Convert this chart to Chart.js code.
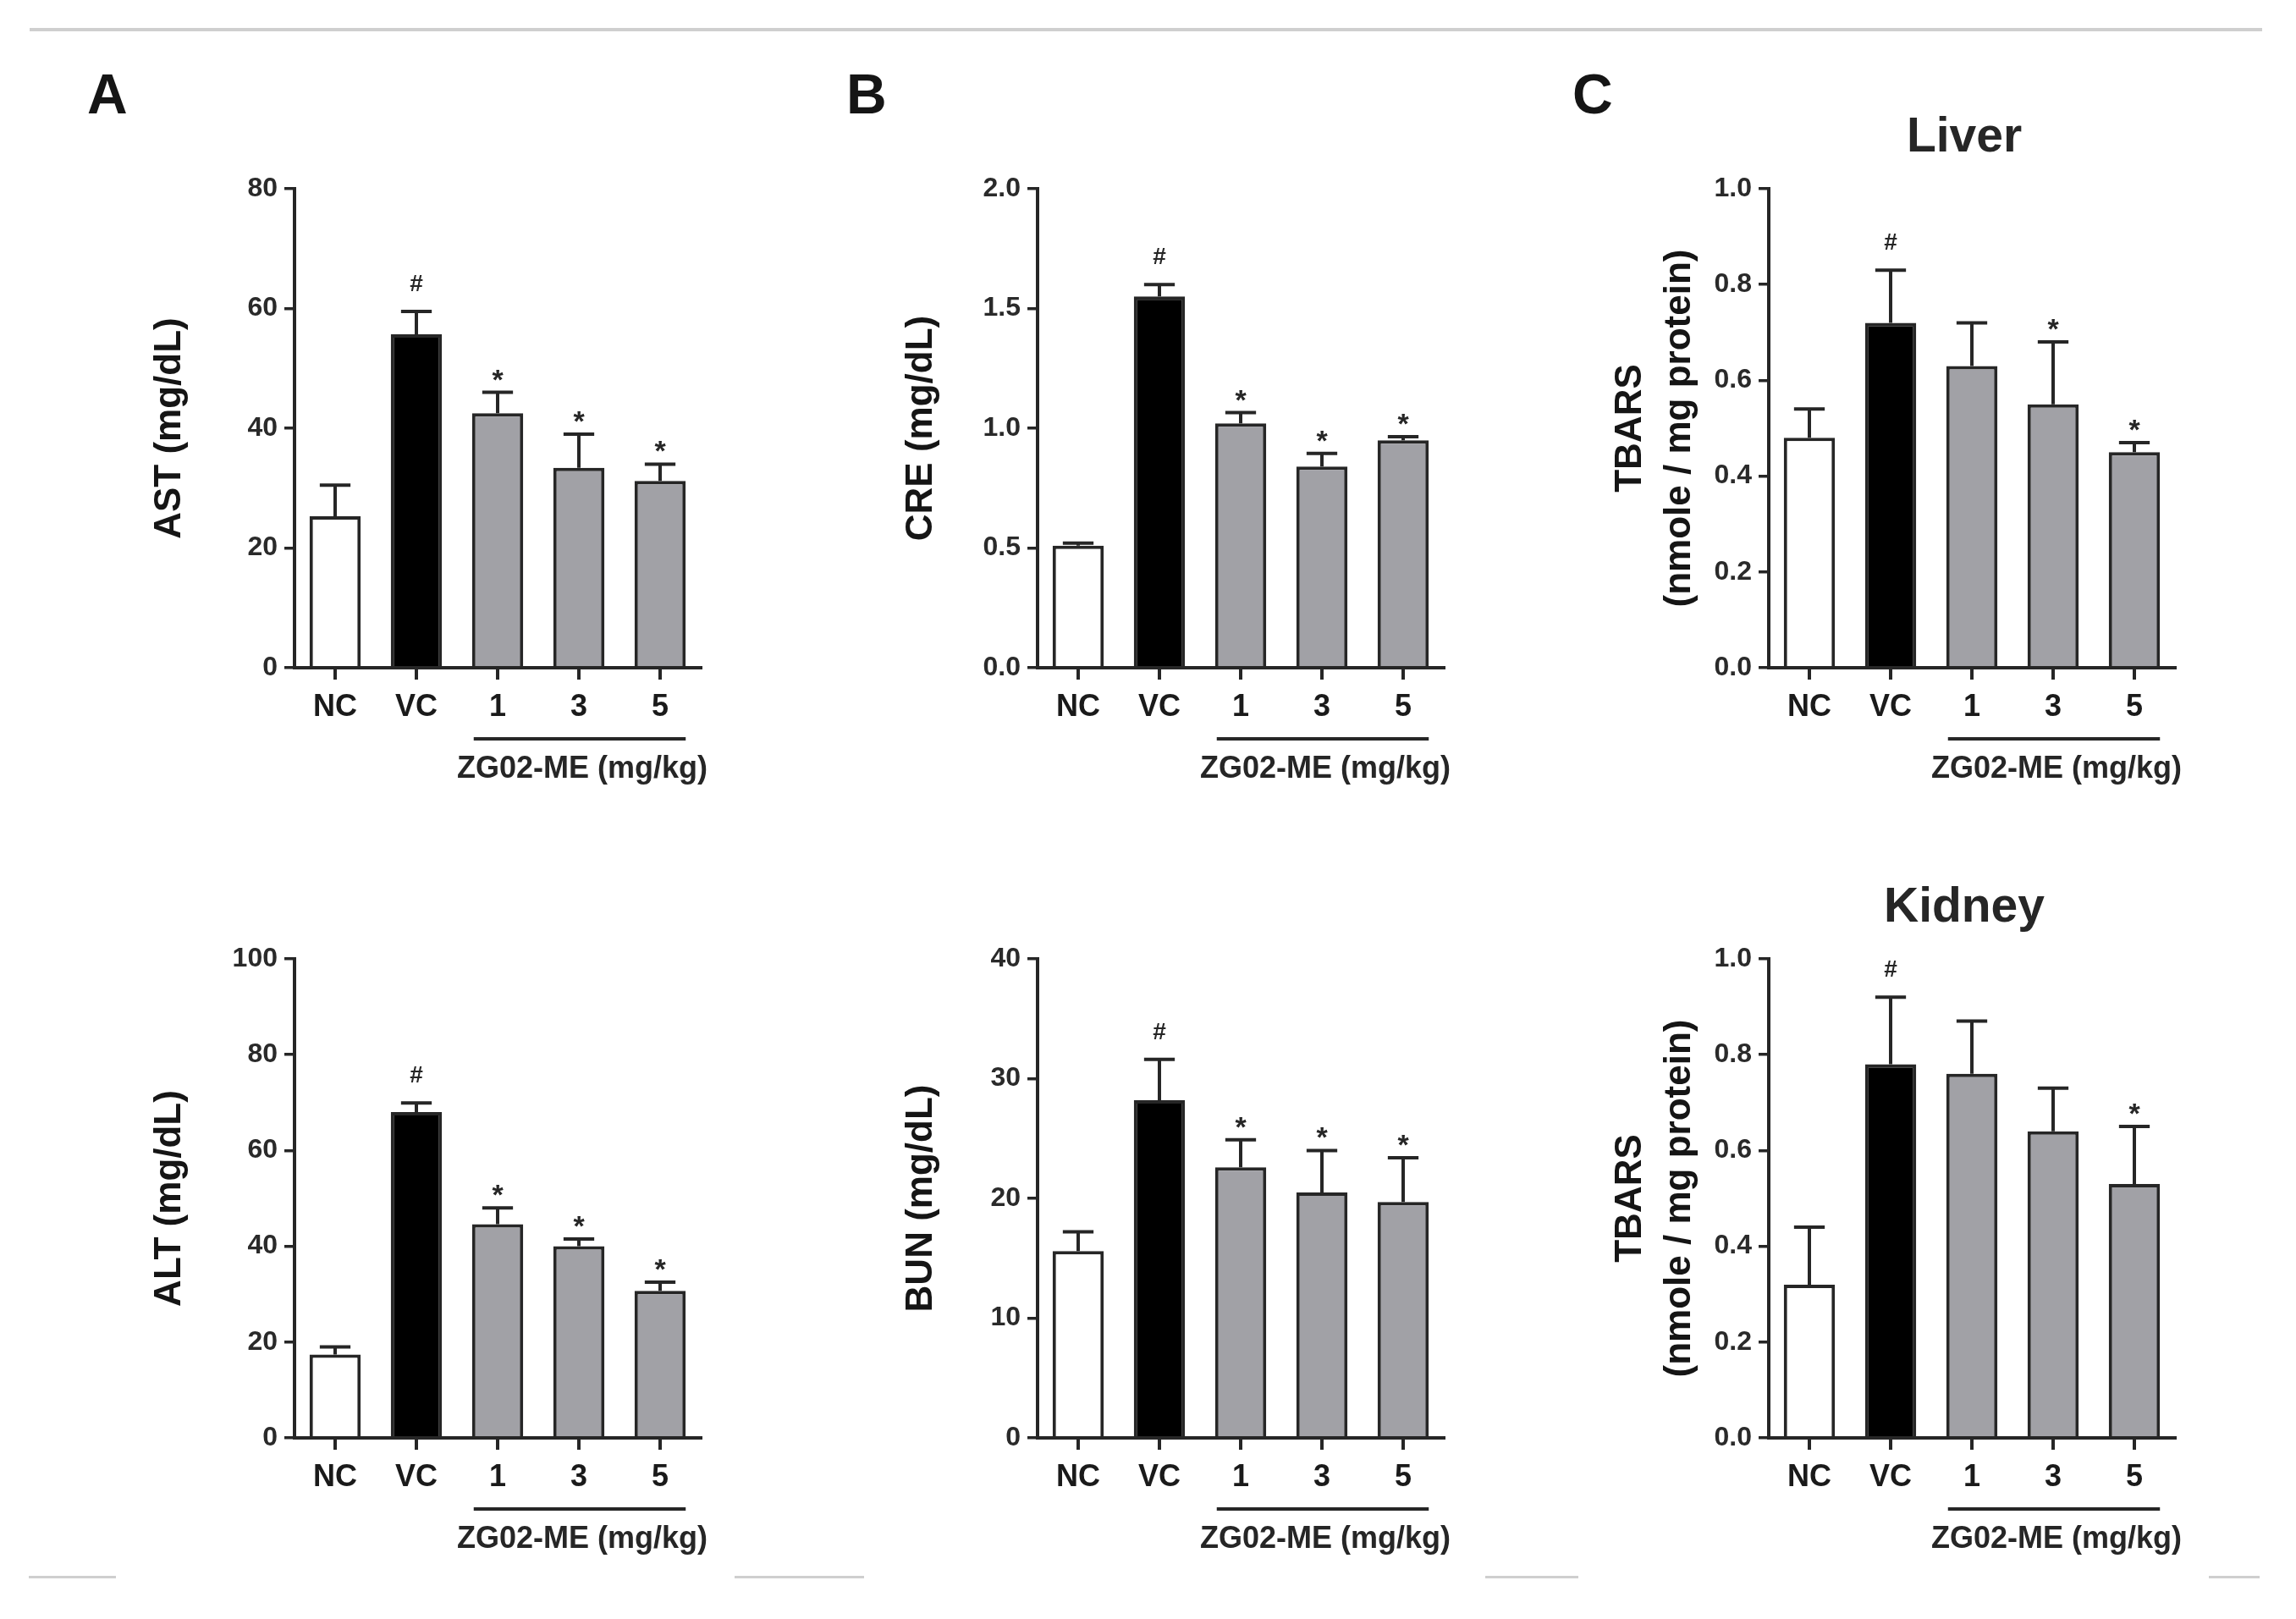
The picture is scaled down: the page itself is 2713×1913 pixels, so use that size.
<!DOCTYPE html>
<html>
<head>
<meta charset="utf-8">
<script src="https://cdn.jsdelivr.net/npm/chart.js@4.4.1/dist/chart.umd.min.js"></script>
<style>
  html, body { margin: 0; padding: 0; background: #ffffff; }
  body { width: 2713px; height: 1913px; position: relative; overflow: hidden;
         font-family: "Liberation Sans", Arial, sans-serif; }
  canvas { position: absolute; }
  .letter { position: absolute; font-weight: bold; font-size: 66px; line-height: 1; color: #151515; }
  .rule { position: absolute; background: #cfcfcf; }
</style>
</head>
<body>
<div class="rule" style="left:35px; top:33px; width:2638px; height:4px;"></div>
<div class="rule" style="left:34px; top:1862px; width:103px; height:3px;"></div>
<div class="rule" style="left:868px; top:1862px; width:153px; height:3px;"></div>
<div class="rule" style="left:1755px; top:1862px; width:110px; height:3px;"></div>
<div class="rule" style="left:2610px; top:1862px; width:60px; height:3px;"></div>

<div class="letter" style="left:103px; top:78px;">A</div>
<div class="letter" style="left:1000px; top:78px;">B</div>
<div class="letter" style="left:1858px; top:78px;">C</div>

<canvas id="cAST"></canvas>
<canvas id="cALT"></canvas>
<canvas id="cCRE"></canvas>
<canvas id="cBUN"></canvas>
<canvas id="cLiver"></canvas>
<canvas id="cKidney"></canvas>

<script>
// ---------- DATA ----------
const groups = ["NC", "VC", "1", "3", "5"];
const doseLabel = "ZG02-ME (mg/kg)";

const astMean = [25.3, 55.7, 42.5, 33.4, 31.2];
const astErr  = [5.2, 3.8, 3.5, 5.6, 2.8];
const astSig  = ["", "#", "*", "*", "*"];
const astTicks = [0, 20, 40, 60, 80];

const altMean = [17.4, 68.0, 44.6, 40.0, 30.7];
const altErr  = [1.6, 1.9, 3.4, 1.5, 1.8];
const altSig  = ["", "#", "*", "*", "*"];
const altTicks = [0, 20, 40, 60, 80, 100];

const creMean = [0.51, 1.55, 1.02, 0.84, 0.95];
const creErr  = [0.01, 0.05, 0.045, 0.055, 0.015];
const creSig  = ["", "#", "*", "*", "*"];
const creTicks = [0, 0.5, 1.0, 1.5, 2.0];

const bunMean = [15.6, 28.2, 22.6, 20.5, 19.7];
const bunErr  = [1.6, 3.4, 2.3, 3.5, 3.7];
const bunSig  = ["", "#", "*", "*", "*"];
const bunTicks = [0, 10, 20, 30, 40];

const liverMean = [0.48, 0.72, 0.63, 0.55, 0.45];
const liverErr  = [0.06, 0.11, 0.09, 0.13, 0.02];
const liverSig  = ["", "#", "", "*", "*"];

const kidneyMean = [0.32, 0.78, 0.76, 0.64, 0.53];
const kidneyErr  = [0.12, 0.14, 0.11, 0.09, 0.12];
const kidneySig  = ["", "#", "", "", "*"];

const tbarsTicks = [0, 0.2, 0.4, 0.6, 0.8, 1.0];

// ---------- STYLE ----------
const FONT = '"Liberation Sans", Arial, sans-serif';
const INK = "#262626";
const barFill = ["#ffffff", "#000000", "#a1a1a6", "#a1a1a6", "#a1a1a6"];

const PLOT_W = 480;   // width of plot area
const PLOT_H = 566;   // height of plot area
const TOP_PAD = 103;
const XAXIS_H = 140;
const RIGHT_PAD = 50;

// ---------- EXTRAS: error bars, marks, dose line, panel title ----------
function makeExtras(p) {
  return {
    id: "extras",
    afterDatasetsDraw(chart) {
      const ctx = chart.ctx;
      const y = chart.scales.y;
      const area = chart.chartArea;
      const bars = chart.getDatasetMeta(0).data;
      ctx.save();
      ctx.strokeStyle = INK;
      ctx.fillStyle = INK;
      ctx.lineWidth = 4;

      bars.forEach((bar, i) => {
        const base = y.getPixelForValue(p.mean[i]);
        const top = y.getPixelForValue(p.mean[i] + p.err[i]);
        const cap = bar.width * 0.3;
        ctx.beginPath();
        ctx.moveTo(bar.x, base);
        ctx.lineTo(bar.x, top);
        ctx.moveTo(bar.x - cap, top);
        ctx.lineTo(bar.x + cap, top);
        ctx.stroke();

        const mark = p.sig[i];
        if (mark) {
          ctx.textAlign = "center";
          ctx.textBaseline = "alphabetic";
          if (mark === "#") {
            ctx.font = "bold 28px " + FONT;
            ctx.fillText(mark, bar.x, top - 24);
          } else {
            ctx.font = "bold 34px " + FONT;
            ctx.fillText(mark, bar.x, top - 4);
          }
        }
      });

      // line under the dose groups
      const first = bars[2], last = bars[4];
      const lineY = area.bottom + 84;
      ctx.beginPath();
      ctx.moveTo(first.x - first.width / 2 + 2, lineY);
      ctx.lineTo(last.x + last.width / 2, lineY);
      ctx.stroke();
      ctx.font = "bold 36px " + FONT;
      ctx.textAlign = "center";
      ctx.textBaseline = "middle";
      ctx.fillText(doseLabel, (first.x - first.width / 2 + last.x + last.width / 2) / 2 + 4, area.bottom + 120);

      if (p.title) {
        ctx.font = "bold 57px " + FONT;
        ctx.fillText(p.title, (area.left + area.right) / 2 - 9, area.top - 60);
      }
      ctx.restore();
    }
  };
}

// ---------- DRAW ONE PANEL ----------
function drawPanel(p) {
  const canvas = document.getElementById(p.id);
  const W = p.axisWidth + PLOT_W + RIGHT_PAD;
  const H = TOP_PAD + PLOT_H + XAXIS_H;
  canvas.width = W;
  canvas.height = H;
  canvas.style.left = p.left + "px";
  canvas.style.top = p.top + "px";
  canvas.style.width = W + "px";
  canvas.style.height = H + "px";

  new Chart(canvas, {
    type: "bar",
    data: {
      labels: groups,
      datasets: [{
        data: p.mean,
        backgroundColor: barFill,
        borderColor: INK,
        borderWidth: 4,
        borderSkipped: "start",
        barPercentage: 0.63,
        categoryPercentage: 1.0
      }]
    },
    options: {
      responsive: false,
      animation: false,
      devicePixelRatio: 1,
      layout: { padding: { left: 0, right: RIGHT_PAD, top: TOP_PAD, bottom: 0 } },
      plugins: { legend: { display: false }, tooltip: { enabled: false } },
      scales: {
        x: {
          offset: true,
          grid: { display: true, offset: false, drawOnChartArea: false, drawTicks: true,
                  tickLength: 14, color: INK, lineWidth: 4 },
          border: { display: true, color: INK, width: 4, z: 1 },
          ticks: { color: "#1a1a1a", padding: 11, font: { family: FONT, size: 36, weight: "bold" } },
          afterFit: s => { s.height = XAXIS_H; }
        },
        y: {
          min: p.ticks[0],
          max: p.ticks[p.ticks.length - 1],
          afterBuildTicks: s => { s.ticks = p.ticks.map(v => ({ value: v })); },
          grid: { display: true, drawOnChartArea: false, drawTicks: true,
                  tickLength: 12, color: INK, lineWidth: 3.5 },
          border: { display: true, color: INK, width: 4, z: 1 },
          ticks: { color: "#2a2a2a", padding: 8, font: { family: FONT, size: 32, weight: "bold" },
                   callback: v => Number(v).toFixed(p.decimals) },
          title: { display: true, text: p.yTitle, color: "#151515",
                   font: { family: FONT, size: 44, weight: "bold", lineHeight: p.titleLH },
                   padding: { top: p.titlePad, bottom: 0 } },
          afterFit: s => { s.width = p.axisWidth; }
        }
      }
    },
    plugins: [makeExtras(p)]
  });
}

// ---------- PANELS ----------
drawPanel({ id: "cAST", left: 150, top: 120, axisWidth: 198, titlePad: 24, titleLH: 1.2,
            mean: astMean, err: astErr, sig: astSig, ticks: astTicks, decimals: 0, yTitle: "AST (mg/dL)" });
drawPanel({ id: "cALT", left: 150, top: 1030, axisWidth: 198, titlePad: 24, titleLH: 1.2,
            mean: altMean, err: altErr, sig: altSig, ticks: altTicks, decimals: 0, yTitle: "ALT (mg/dL)" });
drawPanel({ id: "cCRE", left: 1040, top: 120, axisWidth: 186, titlePad: 22, titleLH: 1.2,
            mean: creMean, err: creErr, sig: creSig, ticks: creTicks, decimals: 1, yTitle: "CRE (mg/dL)" });
drawPanel({ id: "cBUN", left: 1040, top: 1030, axisWidth: 186, titlePad: 22, titleLH: 1.2,
            mean: bunMean, err: bunErr, sig: bunSig, ticks: bunTicks, decimals: 0, yTitle: "BUN (mg/dL)" });
drawPanel({ id: "cLiver", left: 1880, top: 120, axisWidth: 210, titlePad: 18, titleLH: 1.32,
            mean: liverMean, err: liverErr, sig: liverSig, ticks: tbarsTicks, decimals: 1,
            yTitle: ["TBARS", "(nmole / mg protein)"], title: "Liver" });
drawPanel({ id: "cKidney", left: 1880, top: 1030, axisWidth: 210, titlePad: 18, titleLH: 1.32,
            mean: kidneyMean, err: kidneyErr, sig: kidneySig, ticks: tbarsTicks, decimals: 1,
            yTitle: ["TBARS", "(nmole / mg protein)"], title: "Kidney" });
</script>
</body>
</html>
